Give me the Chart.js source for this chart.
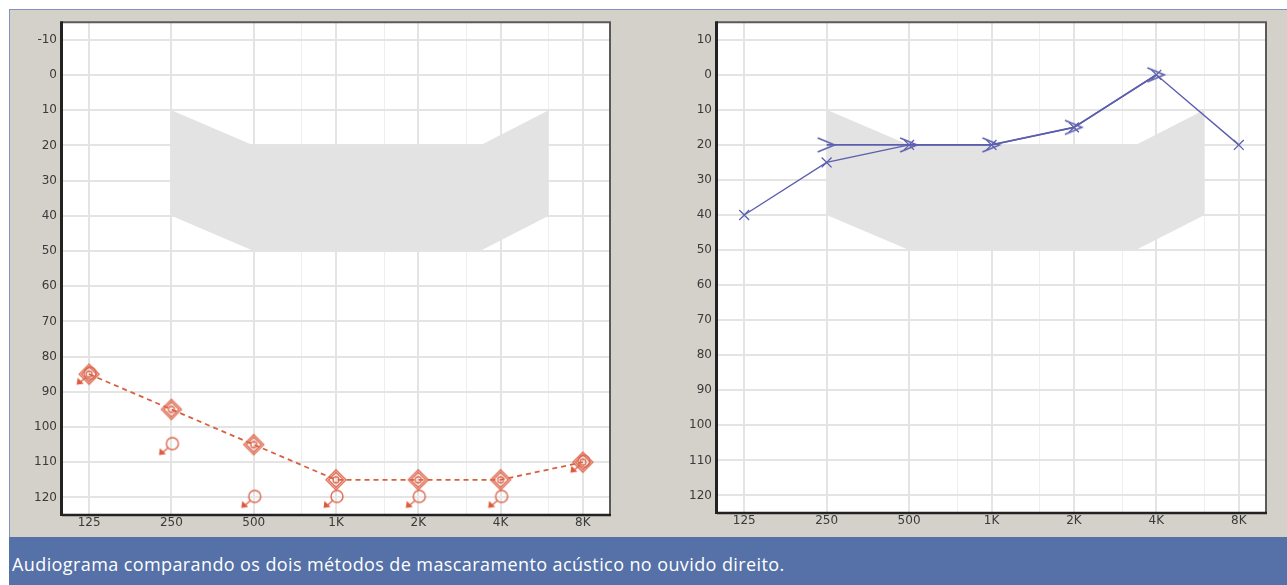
<!DOCTYPE html>
<html>
<head>
<meta charset="utf-8">
<script src="https://cdn.jsdelivr.net/npm/chart.js@4.4.0/dist/chart.umd.min.js"></script>
<style>
  html, body { margin: 0; padding: 0; background: #fff; }
  #stage { position: relative; width: 1287px; height: 585px; overflow: hidden; background: #fff; }
  #panel { position: absolute; left: 9px; top: 9px; width: 1278px; height: 528px; background: #d4d1ca;
           border-top: 1px solid #7f92c2; border-left: 1px solid #7f92c2; box-sizing: border-box; }
  #caption { position: absolute; left: 9px; top: 537px; width: 1278px; height: 48px; background: #5571a7;
             color: #fff; font-family: "Open Sans", sans-serif; font-size: 18px; letter-spacing: 0.4px;
             line-height: 48px; padding: 3px 0 0 3px; box-sizing: border-box; white-space: nowrap; }
  .box { position: absolute; top: 10px; height: 527px; }
  #boxL { left: 11px; width: 610px; }
  #boxR { left: 666px; width: 611px; }
</style>
</head>
<body>
<div id="stage">
  <div id="panel"></div>
  <div class="box" id="boxL"><canvas id="left"></canvas></div>
  <div class="box" id="boxR"><canvas id="right"></canvas></div>
  <div id="caption">Audiograma comparando os dois métodos de mascaramento acústico no ouvido direito.</div>
</div>
<script>
// Frequencies, placed one octave apart starting at 125 Hz
const freqLabels = ['125', '250', '500', '1K', '2K', '4K', '8K'];
const freqPos = [0, 1, 2, 3, 4, 5, 6];
// Inter-octave grid lines: 750, 1.5K, 3K, 6K
const halfOctPos = [2.585, 3.585, 4.585, 5.585];

// Hearing level axis (dB HL), drawn downward
const yTicks = [-10, 0, 10, 20, 30, 40, 50, 60, 70, 80, 90, 100, 110, 120];
const leftYLabels = ['-10', '0', '10', '20', '30', '40', '50', '60', '70', '80', '90', '100', '110', '120'];
const rightYLabels = ['10', '0', '10', '20', '30', '40', '50', '60', '70', '80', '90', '100', '110', '120'];

// Shaded speech area
const shadeX = [1, 2, 4.75, 5.585];
const shadeUpper = [10, 20, 20, 10];
const shadeLower = [40, 50, 50, 40];

// Left panel: masked thresholds (diamonds) and no-response marks (circles with arrow)
const leftMasked = [85, 95, 105, 115, 115, 115, 110];
const leftNoResponse = [85, 105, 120, 120, 120, 120, 110];

// Right panel: X thresholds and chevron thresholds
const rightX = [40, 25, 20, 20, 15, 0, 20];
const rightChevron = [null, 20, 20, 20, 15, 0, null];

const RED = '#d9603f';
const BLUE = '#5b5fae';

function pts(values) {
  return values.map((v, i) => ({ x: freqPos[i], y: v }));
}
function shadePts(values) {
  return values.map((v, i) => ({ x: shadeX[i], y: v }));
}

// ---- custom marker glyphs ----
function diamondGlyph() {
  const c = document.createElement('canvas');
  c.width = c.height = 26;
  const g = c.getContext('2d');
  const m = 13;
  g.strokeStyle = '#de674e';
  g.lineWidth = 1.3;
  [10, 7.5].forEach(r => {
    g.beginPath();
    g.moveTo(m, m - r); g.lineTo(m + r, m); g.lineTo(m, m + r); g.lineTo(m - r, m);
    g.closePath(); g.stroke();
  });
  g.beginPath(); g.arc(m, m, 3, 0, Math.PI * 2); g.stroke();
  return c;
}
function circleArrowGlyph() {
  const c = document.createElement('canvas');
  c.width = c.height = 36;
  const g = c.getContext('2d');
  const m = 18;
  g.strokeStyle = '#de674e';
  g.fillStyle = '#de5a3e';
  g.lineWidth = 1.4;
  g.beginPath(); g.arc(m + 1, m - 1, 6, 0, Math.PI * 2); g.stroke();
  // arrow toward lower-left
  g.beginPath(); g.moveTo(m - 3, m + 3); g.lineTo(m - 9, m + 8); g.stroke();
  g.beginPath();
  g.moveTo(m - 12.5, m + 10.5); g.lineTo(m - 11.5, m + 3.5); g.lineTo(m - 5.5, m + 9.5);
  g.closePath(); g.fill();
  return c;
}
function chevronGlyph() {
  const c = document.createElement('canvas');
  c.width = 36; c.height = 24;
  const g = c.getContext('2d');
  const mx = 18, my = 12;
  g.strokeStyle = BLUE;
  g.lineWidth = 1.5;
  g.beginPath();
  g.moveTo(mx - 9, my - 7); g.lineTo(mx + 8, my); g.lineTo(mx - 9, my + 7);
  g.stroke();
  return c;
}

// white plot background and frame
const framePlugin = {
  id: 'frame',
  beforeDraw(chart) {
    const { ctx, chartArea: a } = chart;
    ctx.save();
    ctx.fillStyle = '#ffffff';
    ctx.fillRect(a.left, a.top, a.right - a.left, a.bottom - a.top);
    ctx.restore();
  },
  afterDraw(chart) {
    const { ctx, chartArea: a } = chart;
    ctx.save();
    ctx.strokeStyle = '#5a5a5a';
    ctx.lineWidth = 2;
    ctx.beginPath(); ctx.moveTo(a.left, a.top); ctx.lineTo(a.right, a.top); ctx.lineTo(a.right, a.bottom); ctx.stroke();
    ctx.strokeStyle = '#222';
    ctx.lineWidth = 2.5;
    ctx.beginPath(); ctx.moveTo(a.right + 1, a.bottom); ctx.lineTo(a.left, a.bottom); ctx.stroke();
    ctx.lineWidth = 3;
    ctx.beginPath(); ctx.moveTo(a.left - 0.5, a.top - 1); ctx.lineTo(a.left - 0.5, a.bottom + 1); ctx.stroke();
    ctx.restore();
  }
};

function shadeDatasets() {
  return [
    { data: shadePts(shadeUpper), borderWidth: 0, pointRadius: 0, fill: '+1',
      backgroundColor: '#e3e3e3', order: 20, tension: 0 },
    { data: shadePts(shadeLower), borderWidth: 0, pointRadius: 0, fill: false, order: 21, tension: 0 }
  ];
}

function makeOptions(yLabels, topPad, xAxisHeight) {
  const tickFont = { family: 'DejaVu Sans', size: 12 };
  return {
    responsive: true,
    maintainAspectRatio: false,
    animation: false,
    layout: { padding: { top: topPad, right: 11, bottom: 0, left: 0 } },
    plugins: { legend: { display: false }, tooltip: { enabled: false } },
    scales: {
      x: {
        type: 'linear', min: -0.33, max: 6.33,
        afterBuildTicks(s) {
          s.ticks = freqPos.concat(halfOctPos).sort((a, b) => a - b).map(v => ({ value: v }));
        },
        afterFit(s) { s.height = xAxisHeight; },
        ticks: {
          autoSkip: false, maxRotation: 0, padding: 1, color: '#3a3a3a', font: tickFont,
          callback(v) {
            const i = freqPos.indexOf(v);
            return i >= 0 ? freqLabels[i] : '';
          }
        },
        grid: {
          drawTicks: false,
          color: c => (c.tick && freqPos.includes(c.tick.value)) ? '#e4e4e4' : '#eeeeee',
          lineWidth: c => (c.tick && freqPos.includes(c.tick.value)) ? 2 : 1
        },
        border: { display: false }
      },
      y: {
        type: 'linear', reverse: true, min: -15, max: 125,
        afterBuildTicks(s) { s.ticks = yTicks.map(v => ({ value: v })); },
        afterFit(s) { s.width = 51; },
        ticks: {
          padding: 5, color: '#3a3a3a', font: tickFont,
          callback(v) {
            const i = yTicks.indexOf(v);
            return i >= 0 ? yLabels[i] : '';
          }
        },
        grid: { drawTicks: false, color: '#e4e4e4', lineWidth: 2 },
        border: { display: false }
      }
    }
  };
}

new Chart(document.getElementById('left'), {
  type: 'line',
  data: {
    datasets: shadeDatasets().concat([
      { data: pts(leftNoResponse), showLine: false, pointStyle: circleArrowGlyph(),
        borderColor: RED, order: 2 },
      { data: pts(leftMasked), borderColor: RED, borderWidth: 1.8, borderDash: [5, 4],
        pointStyle: diamondGlyph(), order: 1, tension: 0, fill: false }
    ])
  },
  options: makeOptions(leftYLabels, 11, 22),
  plugins: [framePlugin]
});

new Chart(document.getElementById('right'), {
  type: 'line',
  data: {
    datasets: shadeDatasets().concat([
      { data: pts(rightChevron), borderColor: BLUE, borderWidth: 1.7, pointStyle: chevronGlyph(),
        order: 2, tension: 0, fill: false, spanGaps: false },
      { data: pts(rightX), borderColor: BLUE, borderWidth: 1.4, pointStyle: 'crossRot',
        pointRadius: 7, pointBorderWidth: 1.3, pointBorderColor: BLUE, order: 1, tension: 0, fill: false }
    ])
  },
  options: makeOptions(rightYLabels, 10, 24),
  plugins: [framePlugin]
});
</script>
</body>
</html>
